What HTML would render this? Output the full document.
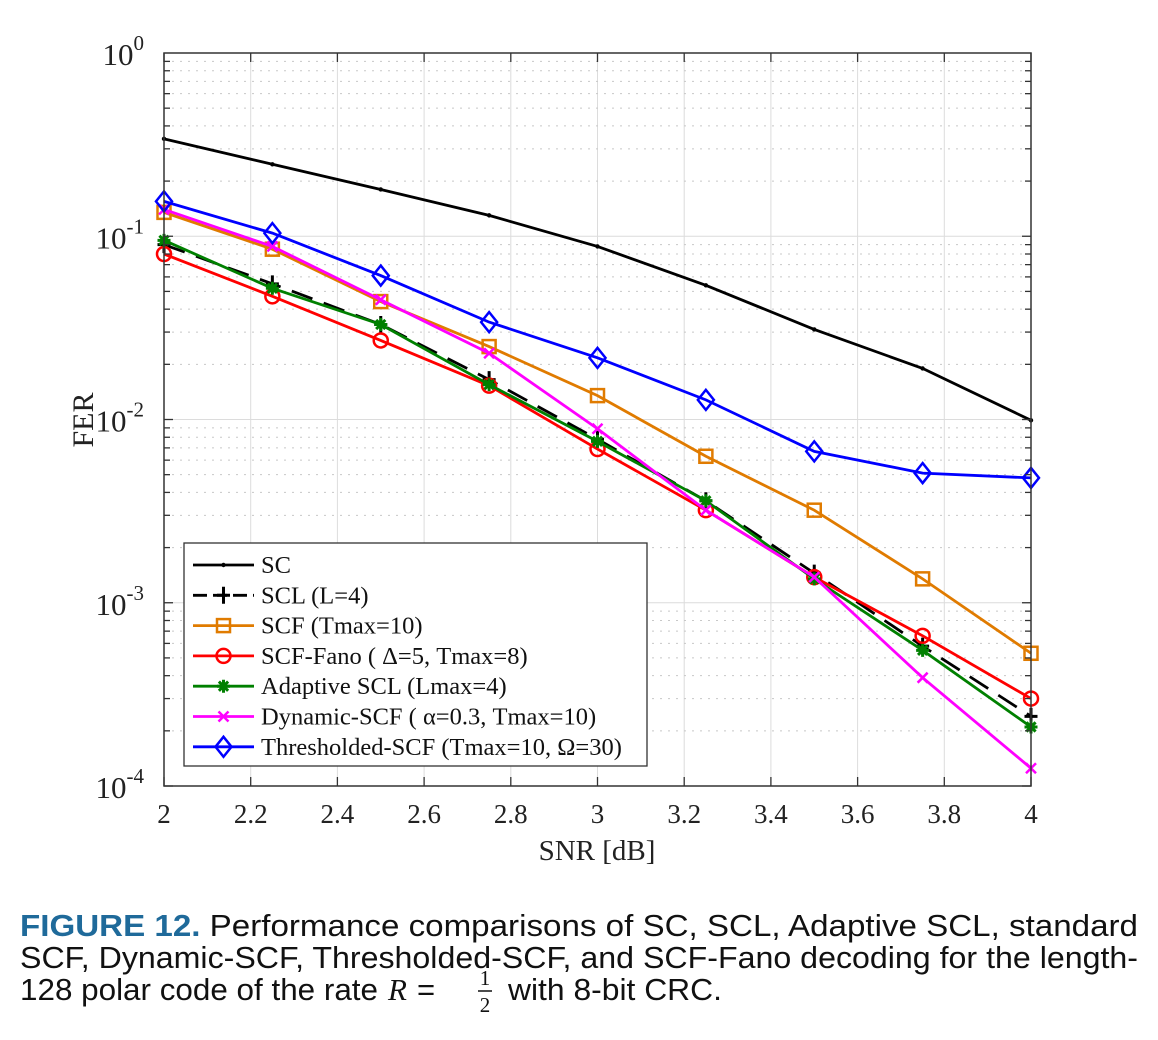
<!DOCTYPE html>
<html><head><meta charset="utf-8"><style>
body{margin:0;background:#fff;}
svg{display:block;}
</style></head><body>
<svg id="chart" width="1158" height="1040" xmlns="http://www.w3.org/2000/svg">
<g id="grid"></g>
<g id="series"></g>
<g id="axes"></g>
<text x="93" y="420" transform="rotate(-90 93 420)" text-anchor="middle" font-family="Liberation Serif, serif" font-size="30" fill="#222">FER</text>
<text x="597" y="860" text-anchor="middle" font-family="Liberation Serif, serif" font-size="29" fill="#222">SNR [dB]</text>
<g id="legend"></g>
<g font-family="Liberation Sans, Arial, sans-serif" font-size="31" fill="#111">
<text x="20" y="936" textLength="1118" lengthAdjust="spacingAndGlyphs"><tspan font-weight="bold" fill="#1f6a9a">FIGURE 12.</tspan> Performance comparisons of SC, SCL, Adaptive SCL, standard</text>
<text x="20" y="968" textLength="1118" lengthAdjust="spacingAndGlyphs">SCF, Dynamic-SCF, Thresholded-SCF, and SCF-Fano decoding for the length-</text>
<text x="20" y="1000" textLength="358" lengthAdjust="spacingAndGlyphs">128 polar code of the rate</text>
<text x="388" y="1000" font-family="Liberation Serif, serif" font-style="italic" font-size="31">R</text>
<text x="417" y="1000">=</text>
<text x="485" y="985" text-anchor="middle" font-family="Liberation Serif, serif" font-size="21">1</text>
<line x1="478" y1="991" x2="492" y2="991" stroke="#111" stroke-width="1.5"/>
<text x="485" y="1012" text-anchor="middle" font-family="Liberation Serif, serif" font-size="21">2</text>
<text x="508" y="1000" textLength="214" lengthAdjust="spacingAndGlyphs">with 8-bit CRC.</text>
</g>
</svg>
<script>
const snr=[2,2.25,2.5,2.75,3,3.25,3.5,3.75,4];
const sc=[0.34,0.247,0.18,0.13,0.088,0.054,0.031,0.019,0.0099];
const scl=[0.09,0.055,0.033,0.0165,0.0078,0.0036,0.00145,0.00058,0.00024];
const scf=[0.135,0.085,0.044,0.025,0.0135,0.0063,0.0032,0.00135,0.00053];
const fano=[0.08,0.047,0.027,0.0153,0.0069,0.0032,0.00138,0.00066,0.0003];
const adaptive=[0.095,0.052,0.033,0.0155,0.0076,0.0036,0.00135,0.00055,0.00021];
const dynamic=[0.14,0.088,0.045,0.023,0.0089,0.0032,0.00138,0.00039,0.000125];
const thresholded=[0.155,0.104,0.061,0.034,0.0217,0.0128,0.0067,0.0051,0.0048];
const xTicks=[2,2.2,2.4,2.6,2.8,3,3.2,3.4,3.6,3.8,4];
const yExps=[0,-1,-2,-3,-4];
const legendLabels=['SC','SCL (L=4)','SCF (Tmax=10)','SCF-Fano ( \u0394=5, Tmax=8)','Adaptive SCL (Lmax=4)','Dynamic-SCF ( \u03b1=0.3, Tmax=10)','Thresholded-SCF (Tmax=10,   \u03a9=30)'];

const L=164,R=1031,T=53,B=786;
const X=v=>L+(v-2)/2*(R-L);
const Y=v=>T+(-Math.log10(v))/4*(B-T);
const NS='http://www.w3.org/2000/svg';
function mk(tag,attrs,parent){const e=document.createElementNS(NS,tag);for(const k in attrs)e.setAttribute(k,attrs[k]);parent.appendChild(e);return e;}
const grid=document.getElementById('grid'),axes=document.getElementById('axes'),ser=document.getElementById('series'),leg=document.getElementById('legend');
xTicks.forEach(t=>{const l=mk('line',{x1:X(t),x2:X(t),y1:T,y2:B,stroke:'#dcdcdc','stroke-width':1},grid);

});
for(let e=0;e>-4;e--){for(let m=1;m<10;m++){const v=m*Math.pow(10,e-1);const y=Y(v);
 const l=mk('line',{x1:L,x2:R,y1:y,y2:y,stroke:m==1?'#dcdcdc':'#c8c8c8','stroke-width':1,'stroke-dasharray':m==1?'':'2,6'},grid);
 
 
 mk('line',{x1:L,x2:L+(m==1?9:6),y1:y,y2:y,stroke:'#333','stroke-width':1.3},axes);mk('line',{x1:R,x2:R-(m==1?9:6),y1:y,y2:y,stroke:'#333','stroke-width':1.3},axes);
}}
mk('rect',{x:L,y:T,width:R-L,height:B-T,fill:'none',stroke:'#333','stroke-width':1.5},axes);
xTicks.forEach(t=>{mk('line',{x1:X(t),x2:X(t),y1:B,y2:B-9,stroke:'#333','stroke-width':1.3},axes);mk('line',{x1:X(t),x2:X(t),y1:T,y2:T+9,stroke:'#333','stroke-width':1.3},axes);
 const tx=mk('text',{x:X(t),y:B+37,'text-anchor':'middle','font-family':'Liberation Serif, serif','font-size':27,fill:'#222'},axes);tx.textContent=String(t);
 
 });
yExps.forEach(e=>{const y=Y(Math.pow(10,e));const tx=mk('text',{x:144,y:y+12,'text-anchor':'end','font-family':'Liberation Serif, serif','font-size':31,fill:'#222'},axes);
 tx.textContent='10';const s=mk('tspan',{dy:-15,'font-size':21},tx);s.textContent=String(e);
 
 });
function marker(type,x,y,c,g){
 const s=6.5;
 if(type=='dot')mk('circle',{cx:x,cy:y,r:2.2,fill:c},g);
 if(type=='plus'){mk('path',{d:`M${x-s} ${y}H${x+s}M${x} ${y-s-2}V${y+s+2}`,stroke:c,'stroke-width':3,fill:'none'},g);}
 if(type=='square')mk('rect',{x:x-s,y:y-s,width:2*s,height:2*s,fill:'none',stroke:c,'stroke-width':2.5},g);
 if(type=='circle')mk('circle',{cx:x,cy:y,r:s+0.5,fill:'none',stroke:c,'stroke-width':2.5},g);
 if(type=='star'){let d='';for(let i=0;i<4;i++){const a=i*Math.PI/4;d+=`M${x-s*Math.cos(a)} ${y-s*Math.sin(a)}L${x+s*Math.cos(a)} ${y+s*Math.sin(a)}`;}mk('path',{d:d,stroke:c,'stroke-width':3,fill:'none'},g);}
 if(type=='x')mk('path',{d:`M${x-5} ${y-5}L${x+5} ${y+5}M${x-5} ${y+5}L${x+5} ${y-5}`,stroke:c,'stroke-width':2.5,fill:'none'},g);
 if(type=='diamond')mk('path',{d:`M${x} ${y-10}L${x+8} ${y}L${x} ${y+10}L${x-8} ${y}Z`,fill:'none',stroke:c,'stroke-width':2.5},g);
}
const defs=[[sc,'#000','dot','','sc'],[scl,'#000','plus','22,12','scl'],[scf,'#e07b00','square','','scf'],[fano,'#ff0000','circle','','scf-fano'],[adaptive,'#008000','star','','adaptive-scl'],[dynamic,'#ff00ff','x','','dynamic-scf'],[thresholded,'#0000ff','diamond','','thresholded-scf']];
defs.forEach(d=>{const g=mk('g',{},ser);
 
 
 const pts=snr.map((s,i)=>X(s)+','+Y(d[0][i])).join(' ');
 mk('polyline',{points:pts,fill:'none',stroke:d[1],'stroke-width':2.8,'stroke-dasharray':d[3]},g);
 snr.forEach((s,i)=>marker(d[2],X(s),Y(d[0][i]),d[1],g));});
mk('rect',{x:184,y:543,width:463,height:223,fill:'#fff',stroke:'#333','stroke-width':1.3},leg);
defs.forEach((d,i)=>{const y=565+i*30.3;const g=mk('g',{},leg);
 
 
 mk('line',{x1:193,x2:254,y1:y,y2:y,stroke:d[1],'stroke-width':2.8,'stroke-dasharray':d[3]?'14,6':''},g);
 marker(d[2],223.5,y,d[1],g);
 const t=mk('text',{x:261,y:y+8,'font-family':'Liberation Serif, serif','font-size':24.5,fill:'#111'},g);t.textContent=legendLabels[i];});
</script>
</body></html>
